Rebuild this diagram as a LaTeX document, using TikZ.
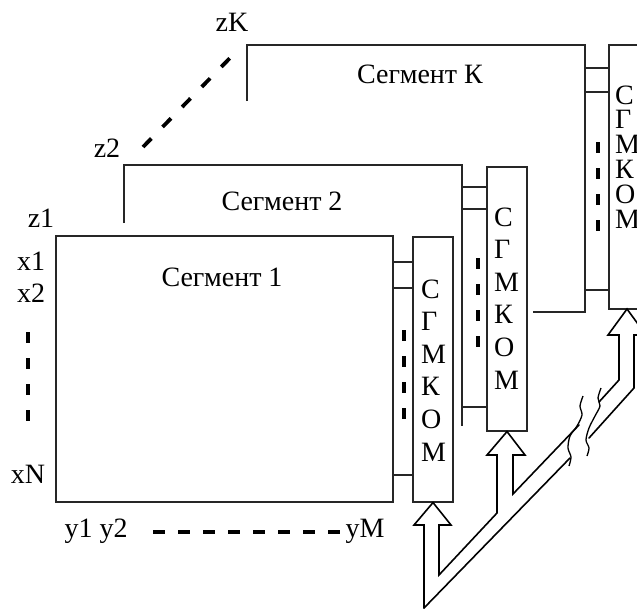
\documentclass[tikz,border=0pt]{standalone}
\usepackage{fontspec}
\setmainfont{Liberation Serif}
\newcommand{\cgmstack}[1]{\vtop{\baselineskip=#1\lineskiplimit=-100pt\hbox{С}\hbox{Г}\hbox{М}\hbox{К}\hbox{О}\hbox{М}}}
\begin{document}
\begin{tikzpicture}[x=1pt,y=-1pt,
  lbl/.style={font=\fontsize{28}{28}\selectfont, inner sep=0pt, anchor=base},
  ln/.style={line width=1.1pt, draw=black!85},
  bus/.style={line width=1.6pt, line join=miter, line cap=round},
  thickdash/.style={line width=3.8pt, dash pattern=on 11pt off 15pt},
  sbox/.style={draw=black!85, line width=1.1pt, minimum width=40pt, inner sep=0pt},
  brk/.style={line width=1.3pt}
]
\useasboundingbox (0,0) rectangle (637,610);
\clip (0,0) rectangle (637,610);

% segments
\draw[ln] (56,236) rectangle (393,502);
\draw[ln] (124,223) -- (124,165) -- (462,165) -- (462,426);
\draw[ln] (247,101) -- (247,45) -- (585,45) -- (585,312) -- (533,312);

% CGMKOM boxes
\node[sbox, minimum height=265pt] (b1) at (433,369.5) {};
\node[sbox, minimum height=264pt] (b2) at (507,299) {};
\node[sbox, minimum height=264pt] (bK) at (629,177) {};

\node[lbl, anchor=base west] (t1) at (421,298) {\cgmstack{32.6pt}};
\node[lbl, anchor=base west] (t2) at (494,226) {\cgmstack{32.6pt}};
\node[lbl, anchor=base west] (tK) at (615,104) {\cgmstack{24.8pt}};

% connectors segment -> box
\foreach \y in {262,288,475} \draw[ln] (393,\y) -- (b1.west |- 0,\y);
\foreach \y in {187,209,407} \draw[ln] (462,\y) -- (b2.west |- 0,\y);
\foreach \y in {68,92,290} \draw[ln] (585,\y) -- (bK.west |- 0,\y);

% thick dashes
\draw[thickdash] (404,330) -- (404,420);
\draw[thickdash] (478,258) -- (478,348);
\draw[thickdash] (598,142) -- (598,232);
\draw[thickdash] (28,332) -- (28,422);
\draw[thickdash, dash pattern=on 12pt off 13pt] (153,532) -- (345,532);
\draw[thickdash, dash pattern=on 12pt off 16pt] (143,147) -- (230,58);

% labels
\node[lbl] (zK) at (232,32) {zK};
\node[lbl] (z2) at (107,157) {z2};
\node[lbl] (z1) at (41,227) {z1};
\node[lbl] (x1) at (31,270) {x1};
\node[lbl] (x2) at (31,302) {x2};
\node[lbl] (xN) at (28,483) {xN};
\node[lbl] (y12) at (96,537) {y1 y2};
\node[lbl] (yM) at (365,537) {yM};
\node[lbl] (s1) at (222,286) {Сегмент 1};
\node[lbl] (s2) at (282,210) {Сегмент 2};
\node[lbl] (sK) at (420,83) {Сегмент К};

% hollow bus arrows
\draw[bus] (424,608) -- (424,525) -- (414,525) -- (b1.south) -- (451,525) -- (439,525)
  -- (439,575) -- (497,513) -- (497,455) -- (487,455) -- (b2.south) -- (525,455)
  -- (513,455) -- (513,494) -- (579,425);
\draw[bus] (424,608) -- (570,458);
\draw[bus] (599,402) -- (619,380) -- (619,335) -- (608,335) -- (627,309) -- (646,335)
  -- (634,335) -- (634,388) -- (589,438);
% break marks
\draw[brk] plot[smooth] coordinates {(583,396) (580,406) (582,415) (577,426) (570,436) (568,448) (571,457) (569,466)};
\draw[brk] plot[smooth] coordinates {(601,388) (598,398) (600,406) (595,416) (589,428) (586,440) (589,448) (587,456)};
\end{tikzpicture}
\end{document}
